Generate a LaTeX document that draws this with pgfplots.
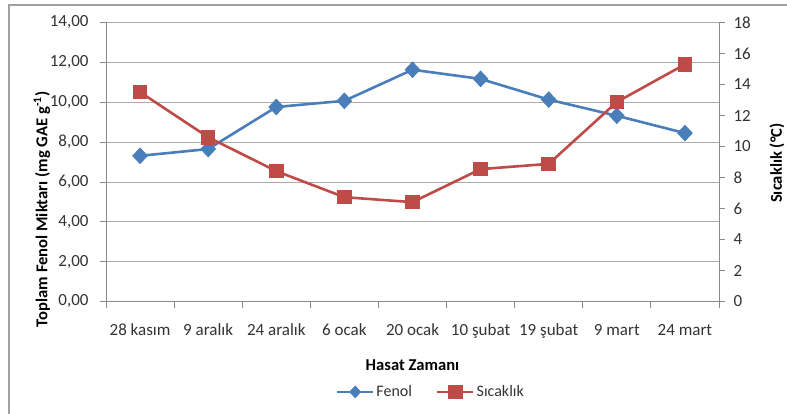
\documentclass[border=0pt]{standalone}
\usepackage{pgfplots}
\pgfplotsset{compat=1.18}
\usepackage{fontspec}
\setmainfont{Carlito}
\definecolor{fblue}{HTML}{4A7EBB}
\definecolor{sred}{HTML}{BE4B48}
\definecolor{gridc}{HTML}{ABABAB}
\definecolor{axc}{HTML}{8A8A8A}
\definecolor{framec}{HTML}{A0A0A0}
\definecolor{txt}{HTML}{333333}
\tikzset{
  tickfont/.style={font=\fontsize{17bp}{20bp}\selectfont, text=txt},
  labfont/.style={font=\fontsize{16.6bp}{20bp}\selectfont\bfseries, text=black},
}
\pgfplotsset{
  fenolstyle/.style={color=fblue, line width=2.6bp, mark=diamond*, mark size=6.5bp, mark options={xscale=1.25, solid}},
  sicstyle/.style={color=sred, line width=2.6bp, mark=square*, mark size=6bp, mark options={solid}},
}
\begin{document}
\begin{tikzpicture}
\path[use as bounding box] (-106bp,-112.5bp) rectangle (681bp,301.5bp);
\draw[color=framec, line width=1.5bp] (-97bp,-112.5bp) -- (-97bp,296.5bp) -- (681bp,296.5bp);
\begin{axis}[
  at={(0,0)}, anchor=south west, scale only axis,
  width=613bp, height=279bp,
  xmin=-0.5, xmax=8.5, ymin=0, ymax=14,
  ytick={0,2,...,14},
  xtick={0,...,8},
  xticklabels={28 kasım, 9 aralık, 24 aralık, 6 ocak, 20 ocak, 10 şubat, 19 şubat, 9 mart, 24 mart},
  minor xtick={-0.5,0.5,...,8.5},
  major x tick style={draw=none},
  minor x tick style={draw=axc, line width=0.8bp},
  y tick style={draw=axc, line width=0.8bp},
  tick align=outside,
  major tick length=6bp, minor tick length=6bp,
  axis x line*=bottom, axis y line*=left,
  axis line style={draw=axc, line width=0.8bp, -},
  ymajorgrids, grid style={draw=gridc, line width=0.8bp},
  /pgf/number format/assume math mode=true,
  tick label style={tickfont},
  y tick label style={xshift=-8bp},
  yticklabel style={/pgf/number format/.cd, fixed, fixed zerofill, precision=2, use comma},
  x tick label style={yshift=-13bp},
  xlabel={Hasat Zamanı},
  xlabel style={labfont, at={(axis description cs:0.5,-0.2276)}, anchor=center},
  ylabel={Toplam Fenol Miktarı (mg GAE g\textsuperscript{-1})},
  ylabel style={labfont, at={(axis description cs:-0.1044,0.33)}, anchor=center},
  clip=false,
]
\addplot[fenolstyle] coordinates {
  (0,7.31) (1,7.65) (2,9.76) (3,10.07) (4,11.63) (5,11.17) (6,10.13) (7,9.32) (8,8.45)
};
\end{axis}
\begin{axis}[
  at={(0,0)}, anchor=south west, scale only axis,
  width=613bp, height=279bp,
  xmin=-0.5, xmax=8.5, ymin=0, ymax=18,
  ytick={0,2,...,18},
  axis x line=none, axis y line*=right,
  axis line style={draw=axc, line width=0.8bp, -},
  y tick style={draw=axc, line width=0.8bp},
  tick align=outside, major tick length=6bp,
  /pgf/number format/assume math mode=true,
  tick label style={tickfont},
  y tick label style={xshift=5bp},
  ylabel={Sıcaklık (°C)},
  ylabel style={labfont, at={(axis description cs:1.0946,0.496)}, anchor=center},
  legend columns=2,
  legend style={at={(axis description cs:0.530,-0.324)}, anchor=center, draw=none, fill=none,
    font=\fontsize{16bp}{19bp}\selectfont, text=txt,
    /tikz/every even column/.append style={column sep=22bp},
    nodes={inner xsep=2bp}},
  legend image code/.code={\draw[#1, mark repeat=2, mark phase=2] plot coordinates {(0bp,0bp) (18bp,0bp) (36bp,0bp)};},
  clip=false,
]
\addlegendimage{fenolstyle, mark size=4.5bp}
\addlegendentry{Fenol}
\addplot[sicstyle] coordinates {
  (0,13.51) (1,10.60) (2,8.41) (3,6.73) (4,6.41) (5,8.54) (6,8.88) (7,12.87) (8,15.30)
};
\addlegendentry{Sıcaklık}
\end{axis}
\end{tikzpicture}
\end{document}
